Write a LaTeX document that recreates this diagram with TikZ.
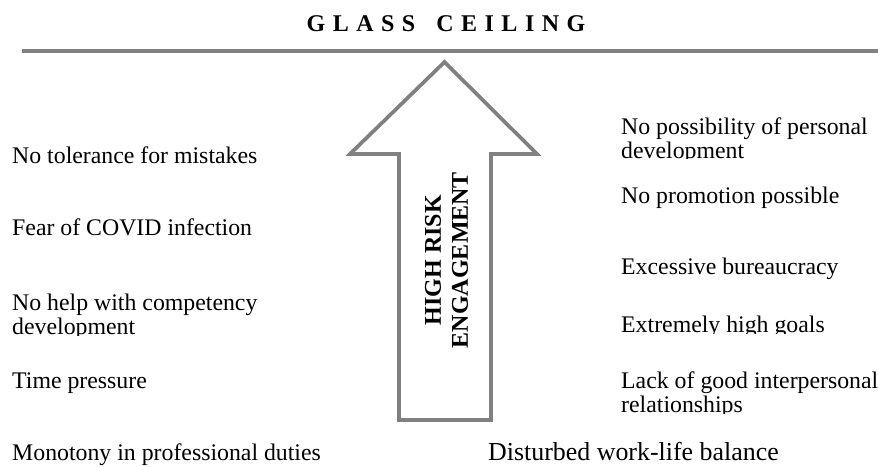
\documentclass[tikz,border=0pt]{standalone}
\usepackage{fontspec}
\setmainfont{Liberation Serif}
\definecolor{rulegray}{HTML}{808080}
\newcommand{\tsp}{\kern7.5pt}
\begin{document}
\begin{tikzpicture}[x=1pt,y=-1pt,
  item/.style={inner sep=0pt, anchor=base west, align=left,
    font=\fontsize{23.8}{24}\selectfont},
  bigitem/.style={inner sep=0pt, anchor=base west,
    font=\fontsize{25.9}{27}\selectfont},
  heading/.style={inner sep=0pt, anchor=base,
    font=\fontsize{24}{27}\selectfont\bfseries},
  arrowlabel/.style={inner sep=0pt, align=center, rotate=90,
    font=\fontsize{24}{27}\selectfont\bfseries},
  ceiling/.style={draw=rulegray, line width=4pt},
  bigarrow/.style={draw=rulegray, fill=white, line width=3.7pt, line join=miter}
]
\path[use as bounding box] (0,0) rectangle (878,466);

% title and ceiling line
\node[heading] (title) at (446,31.5)
  {G\tsp L\tsp A\tsp S\tsp S\tsp{} \tsp C\tsp E\tsp I\tsp L\tsp I\tsp N\tsp G};
\coordinate (ceilL) at (22,51);
\coordinate (ceilR) at (878,51);
\draw[ceiling] (ceilL) -- (ceilR);

% upward block arrow
\draw[bigarrow] (444.5,62) -- (537,154) -- (491,154) -- (491,420)
  -- (399,420) -- (399,154) -- (350,154) -- cycle;
\node[arrowlabel] (risk) at (446.5,260) {HIGH RISK\\ENGAGEMENT};

% left column (two-line boxes are placed by their last baseline)
\node[item] (l1) at (12,163) {No tolerance for mistakes};
\node[item] (l2) at (12,235) {Fear of COVID infection};
\begin{scope}
  \clip (0,280) rectangle (330,335.5);
  \node[item] (l3) at (12,334) {No help with competency\\development};
\end{scope}
\node[item] (l4) at (12,388) {Time pressure};
\node[item] (l5) at (12,460.5) {Monotony in professional duties};

% right column
\begin{scope}
  \clip (600,100) rectangle (878,158.5);
  \node[item] (r1) at (621,158) {No possibility of personal\\development};
\end{scope}
\node[item] (r2) at (621,203) {No promotion possible};
\node[item] (r3) at (621,274) {Excessive bureaucracy};
\begin{scope}
  \clip (600,300) rectangle (878,333);
  \node[item] (r4) at (621,332) {Extremely high goals};
\end{scope}
\begin{scope}
  \clip (600,360) rectangle (878,413);
  \node[item] (r5) at (621,412) {Lack of good interpersonal\\relationships};
\end{scope}
\node[bigitem] (r6) at (488,460.5) {Disturbed work-life balance};
\end{tikzpicture}
\end{document}
